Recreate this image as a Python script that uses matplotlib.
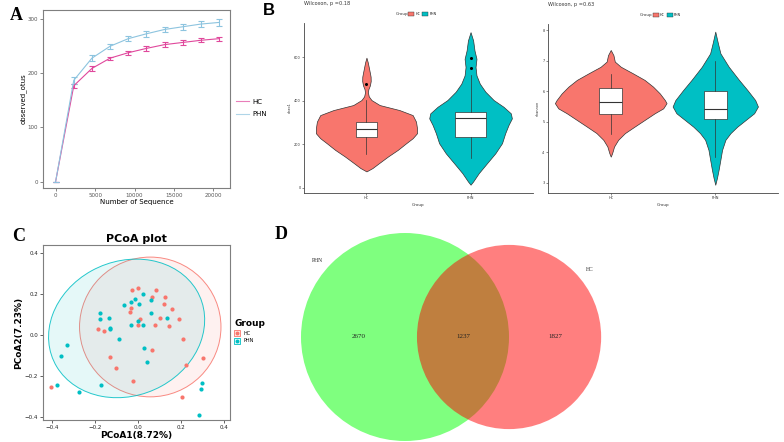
import numpy as np
import matplotlib
matplotlib.use('Agg')
import matplotlib.pyplot as plt
from matplotlib.patches import Ellipse, Circle, Patch
from matplotlib.lines import Line2D

W, H = 784, 442

# ---- A: rarefaction curves
seq_depth = [0, 2300, 4600, 6900, 9200, 11500, 13800, 16100, 18400, 20700]
hc_otus = [0, 177, 209, 228, 238, 246, 253, 257, 261, 264]
hc_err = [0, 4, 4, 3, 4, 4, 4, 4, 4, 4]
phn_otus = [0, 187, 228, 250, 264, 273, 281, 286, 291, 294]
phn_err = [0, 6, 5, 5, 5, 5, 5, 6, 6, 6]

# ---- B: violin outlines (value, half width) and box stats
chao_hc_v = [597, 577, 554, 530, 510, 490, 470, 452, 438, 420, 403, 380, 357, 334, 304, 273, 251, 228, 205, 175, 144, 114, 91, 76]
chao_hc_w = [0, .012, .022, .032, .040, .041, .033, .018, .014, .022, .048, .127, .317, .444, .476, .486, .486, .444, .381, .302, .206, .121, .057, 0]
chao_phn_v = [714, 676, 630, 592, 554, 516, 478, 441, 403, 372, 342, 319, 289, 251, 205, 159, 114, 68, 30, 15]
chao_phn_w = [0, .025, .038, .057, .048, .057, .089, .143, .222, .317, .387, .397, .365, .333, .302, .238, .159, .079, .025, 0]
chao_box = {'HC': [156, 232, 269, 304, 402], 'PHN': [137, 235, 319, 349, 516]}
chao_out = {'HC': [478], 'PHN': [551, 595]}

sh_hc_v = [7.35, 7.18, 6.97, 6.80, 6.59, 6.37, 6.15, 5.93, 5.71, 5.61, 5.44, 5.28, 5.06, 4.84, 4.63, 4.41, 4.19, 3.97, 3.86]
sh_hc_w = [0, .026, .039, .097, .21, .324, .405, .469, .518, .534, .502, .421, .324, .227, .136, .071, .032, .013, 0]
sh_phn_v = [7.95, 7.56, 7.24, 6.80, 6.37, 6.04, 5.71, 5.50, 5.28, 5.06, 4.84, 4.63, 4.41, 4.08, 3.76, 3.43, 3.16, 2.94]
sh_phn_w = [0, .026, .049, .129, .227, .307, .382, .408, .372, .291, .210, .146, .097, .065, .049, .032, .016, 0]
sh_box = {'HC': [4.6, 5.25, 5.65, 6.1, 6.55], 'PHN': [3.85, 5.08, 5.42, 6.0, 7.0]}
sh_out = {'HC': [], 'PHN': []}

# ---- C: PCoA points
hc_pc1 = [-0.029, 0.002, 0.083, 0.066, 0.126, 0.123, 0.160, -0.033, -0.039, 0.007, -0.001, 0.078, 0.104,
          0.145, 0.191, -0.185, -0.157, 0.210, -0.129, 0.067, -0.101, -0.021, 0.222, 0.301, 0.204, -0.403]
hc_pc2 = [0.221, 0.231, 0.218, 0.185, 0.185, 0.150, 0.125, 0.133, 0.112, 0.080, 0.049, 0.047, 0.085,
          0.046, 0.080, 0.028, 0.020, -0.018, -0.107, -0.073, -0.159, -0.223, -0.148, -0.111, -0.304, -0.255]
phn_pc1 = [0.021, -0.015, -0.033, 0.004, -0.064, 0.061, 0.061, -0.176, -0.179, -0.137, 0.137, -0.131, -0.129, -0.002,
           -0.032, 0.021, -0.089, -0.330, -0.358, 0.026, 0.041, -0.173, -0.379, -0.276, 0.300, 0.293, 0.284]
phn_pc2 = [0.198, 0.177, 0.161, 0.153, 0.148, 0.172, 0.109, 0.107, 0.080, 0.085, 0.081, 0.036, 0.031, 0.067,
           0.050, 0.047, -0.018, -0.047, -0.102, -0.062, -0.133, -0.246, -0.244, -0.280, -0.234, -0.262, -0.392]
# ellipse: centre x, centre y, width, height, angle
hc_ell = [0.057, 0.039, 0.658, 0.682, 0]
phn_ell = [-0.053, 0.032, 0.75, 0.65, 30]

# ---- D: Venn counts
only_phn, both, only_hc = 2670, 1237, 1827

hc_col = '#E0489C'
phn_col = '#8DC4DF'
red = '#F8766D'
cyan = '#00BFC4'

fig = plt.figure(figsize=(W / 100, H / 100), dpi=100)


def fig_axes(l, t, r, b):
    return fig.add_axes([l / W, 1 - b / H, (r - l) / W, (b - t) / H])


# ================= A
axA = fig_axes(43, 10, 230, 188)
for y, e, c, lab in [(hc_otus, hc_err, hc_col, 'HC'), (phn_otus, phn_err, phn_col, 'PHN')]:
    axA.errorbar(seq_depth, y, yerr=e, color=c, lw=0.8, elinewidth=0.8, capsize=2.5, capthick=0.8, label=lab)
axA.set_xlim(-1600, 22100)
axA.set_ylim(-12, 317)
axA.set_xticks([0, 5000, 10000, 15000, 20000])
axA.set_yticks([0, 100, 200, 300])
for s in axA.spines.values():
    s.set_color('#7f7f7f')
    s.set_linewidth(0.8)
axA.tick_params(labelsize=4, colors='#555555', length=2, width=0.5, pad=1.5)
axA.set_xlabel('Number of Sequence', fontsize=5, labelpad=1)
axA.set_ylabel('observed_otus', fontsize=5, labelpad=1)
hA = [Line2D([], [], color=hc_col, lw=0.8, alpha=0.7), Line2D([], [], color=phn_col, lw=0.8, alpha=0.7)]
axA.legend(hA, ['HC', 'PHN'], loc='center left', bbox_to_anchor=(1.0, 0.45), frameon=False,
           fontsize=5, handlelength=1.8, handletextpad=0.5, labelspacing=0.9)
fig.text(10 / W, 1 - 7 / H, 'A', fontsize=13, fontweight='bold', family='Liberation Serif', va='top')


# ================= B
def violin_panel(ax, vals, wids, boxes, outs, ylab, title, xlim, ylim, yticks, box_w):
    cols = [red, cyan]
    groups = ['HC', 'PHN']
    stats = []
    for i, g in enumerate(groups):
        v = np.array(vals[i])
        w = np.array(wids[i])
        ax.fill_betweenx(v, i + 1 - w, i + 1 + w, facecolor=cols[i], edgecolor='#333333', lw=0.5, zorder=1)
        b = boxes[g]
        stats.append({'whislo': b[0], 'q1': b[1], 'med': b[2], 'q3': b[3], 'whishi': b[4], 'fliers': outs[g]})
    for i in range(2):
        ax.bxp([stats[i]], positions=[i + 1], widths=box_w[i], patch_artist=True, showcaps=False,
               boxprops=dict(facecolor='white', edgecolor='#333333', lw=0.5),
               medianprops=dict(color='#333333', lw=0.8),
               whiskerprops=dict(color='#333333', lw=0.5),
               flierprops=dict(marker='o', markersize=1.2, markerfacecolor='black', markeredgecolor='black'),
               manage_ticks=False, zorder=2)
    ax.set_xlim(*xlim)
    ax.set_ylim(*ylim)
    ax.set_xticks([1, 2])
    ax.set_xticklabels(groups)
    ax.set_yticks(yticks)
    ax.spines['top'].set_visible(False)
    ax.spines['right'].set_visible(False)
    for s in ['left', 'bottom']:
        ax.spines[s].set_linewidth(0.6)
        ax.spines[s].set_color('#444444')
    ax.tick_params(labelsize=2.5, length=1.5, width=0.4, pad=1, colors='#333333')
    ax.set_xlabel('Group', fontsize=3, labelpad=1.5, color='#333333')
    ax.set_ylabel(ylab, fontsize=2.5, labelpad=1.5, color='#333333')
    ax.text(0.0, 1.10, title, transform=ax.transAxes, fontsize=3.6, color='#333333', va='bottom')
    ax.text(0.40, 1.053, 'Group', transform=ax.transAxes, fontsize=3, color='#333333', va='center')
    hB = [Patch(facecolor=red, edgecolor='#333333', lw=0.3), Patch(facecolor=cyan, edgecolor='#333333', lw=0.3)]
    ax.legend(hB, groups, loc='center left', bbox_to_anchor=(0.455, 1.053), ncol=2, frameon=False,
              fontsize=2.3, handlelength=1.9, handleheight=1.9, handletextpad=0.4, columnspacing=0.6,
              borderpad=0, borderaxespad=0)


axB1 = fig_axes(304, 23, 533, 193)
violin_panel(axB1, [chao_hc_v, chao_phn_v], [chao_hc_w, chao_phn_w], chao_box, chao_out, 'chao1',
             'Wilcoxon, p =0.18', (0.4, 2.6), (-23, 756), [0, 200, 400, 600], [0.2, 0.29])
axB2 = fig_axes(548, 24, 778, 193)
violin_panel(axB2, [sh_hc_v, sh_phn_v], [sh_hc_w, sh_phn_w], sh_box, sh_out, 'shannon',
             'Wilcoxon, p =0.63', (0.4, 2.6), (2.67, 8.2), [3, 4, 5, 6, 7, 8], [0.22, 0.22])
fig.text(263 / W, 1 - 3 / H, 'B', fontsize=12, fontweight='bold', family='Liberation Sans', va='top')

# ================= C
axC = fig_axes(43, 245, 230, 420)
for e, c in [(hc_ell, red), (phn_ell, cyan)]:
    axC.add_patch(Ellipse((e[0], e[1]), e[2], e[3], angle=e[4], facecolor=c, alpha=0.1, edgecolor='none'))
    axC.add_patch(Ellipse((e[0], e[1]), e[2], e[3], angle=e[4], facecolor='none', edgecolor=c, lw=0.7, alpha=0.85))
axC.scatter(hc_pc1, hc_pc2, s=9, color=red, lw=0, zorder=3)
axC.scatter(phn_pc1, phn_pc2, s=9, color=cyan, lw=0, zorder=3)
axC.set_xlim(-0.442, 0.428)
axC.set_ylim(-0.415, 0.439)
axC.set_xticks([-0.4, -0.2, 0.0, 0.2, 0.4])
axC.set_yticks([-0.4, -0.2, 0.0, 0.2, 0.4])
for s in axC.spines.values():
    s.set_color('#7f7f7f')
    s.set_linewidth(0.8)
axC.tick_params(labelsize=4, colors='#222222', length=2, width=0.5, pad=1.5)
axC.set_xlabel('PCoA1(8.72%)', fontsize=6.5, fontweight='bold', labelpad=1)
axC.set_ylabel('PCoA2(7.23%)', fontsize=6.5, fontweight='bold', labelpad=1)
axC.set_title('PCoA plot', fontsize=8, fontweight='bold', pad=2)
hC = [(Line2D([], [], ls='none', marker='s', markersize=5, markerfacecolor=(1, 0.9, 0.88), markeredgecolor=red, markeredgewidth=0.6),
       Line2D([], [], ls='none', marker='o', markersize=1.8, color=red)),
      (Line2D([], [], ls='none', marker='s', markersize=5, markerfacecolor=(0.88, 0.97, 0.97), markeredgecolor=cyan, markeredgewidth=0.6),
       Line2D([], [], ls='none', marker='o', markersize=1.8, color=cyan))]
fig.legend(hC, ['HC', 'PHN'], loc='upper left', bbox_to_anchor=(230 / W, 1 - 315 / H), frameon=False,
           fontsize=3.5, title='Group', title_fontproperties={'weight': 'bold', 'size': 6.5},
           handlelength=1.2, handletextpad=0.6, labelspacing=0.5, alignment='left')
fig.text(12 / W, 1 - 228 / H, 'C', fontsize=13, fontweight='bold', family='Liberation Serif', va='top')

# ================= D
axD = fig_axes(270, 215, 784, 442)
axD.set_xlim(0, 514)
axD.set_ylim(227, 0)
axD.axis('off')
r1 = 104.0
k = r1 / np.sqrt(only_phn + both)
r2 = k * np.sqrt(only_hc + both)
target = np.pi * k * k * both


def lens(d):
    a1 = r1 ** 2 * np.arccos((d * d + r1 * r1 - r2 * r2) / (2 * d * r1))
    a2 = r2 ** 2 * np.arccos((d * d + r2 * r2 - r1 * r1) / (2 * d * r2))
    a3 = 0.5 * np.sqrt((-d + r1 + r2) * (d + r1 - r2) * (d - r1 + r2) * (d + r1 + r2))
    return a1 + a2 - a3


lo, hi = abs(r1 - r2) + 1e-6, r1 + r2 - 1e-6
for _ in range(60):
    mid = 0.5 * (lo + hi)
    if lens(mid) > target:
        lo = mid
    else:
        hi = mid
d = 0.5 * (lo + hi)
cx1, cy = 135.0, 122.0
cx2 = cx1 + d
axD.add_patch(Circle((cx1, cy), r1, facecolor=(0, 1, 0), alpha=0.5, edgecolor='none'))
axD.add_patch(Circle((cx2, cy), r2, facecolor=(1, 0, 0), alpha=0.5, edgecolor='none'))
vf = dict(fontsize=5, family='Liberation Serif', ha='center', va='center', color='#222222')
axD.text(((cx1 - r1) + (cx2 - r2)) / 2, cy, str(only_phn), **vf)
axD.text(((cx2 - r2) + (cx1 + r1)) / 2, cy, str(both), **vf)
axD.text(((cx1 + r1) + (cx2 + r2)) / 2, cy, str(only_hc), **vf)
a1, a2 = np.deg2rad(139), np.deg2rad(40)
axD.text(cx1 + 1.12 * r1 * np.cos(a1), cy - 1.12 * r1 * np.sin(a1), 'PHN', fontsize=4, family='Liberation Serif', ha='center', va='center', color='#222222')
axD.text(cx2 + 1.14 * r2 * np.cos(a2), cy - 1.14 * r2 * np.sin(a2), 'HC', fontsize=4, family='Liberation Serif', ha='center', va='center', color='#222222')
fig.text(275 / W, 1 - 226 / H, 'D', fontsize=13, fontweight='bold', family='Liberation Serif', va='top')

fig.savefig('out.png', dpi=100)
